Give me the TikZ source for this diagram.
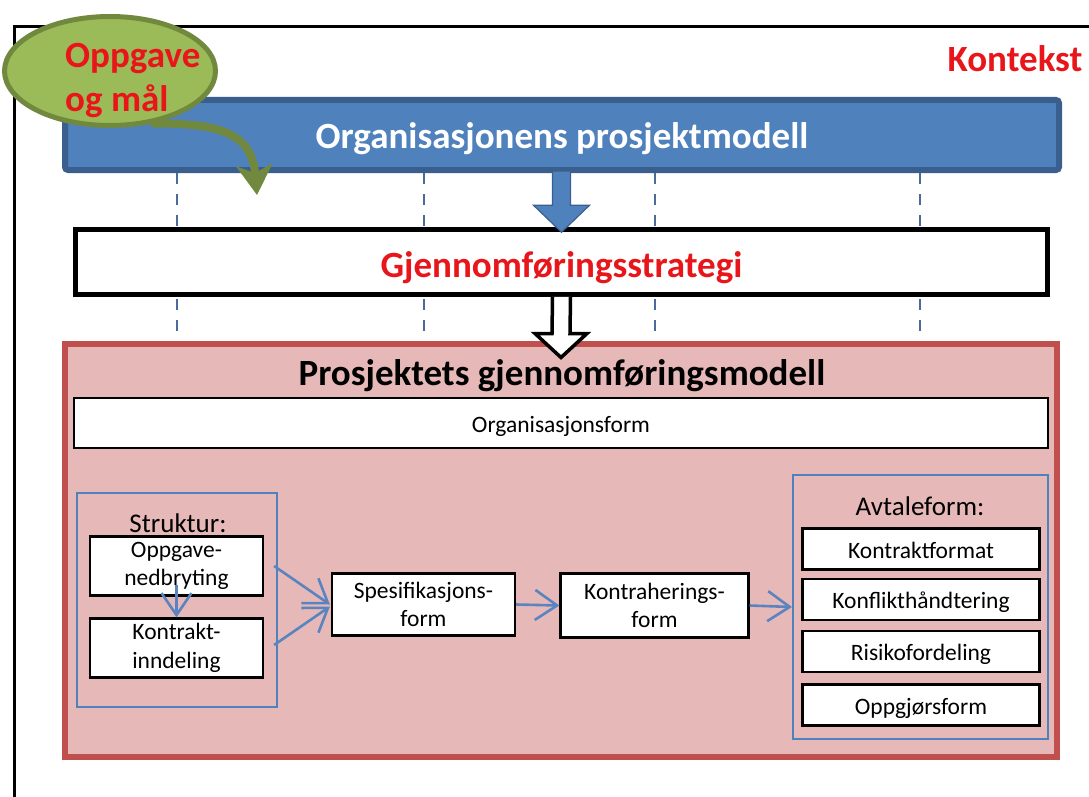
\documentclass[tikz,border=0pt]{standalone}
\usepackage{fontspec}
\setmainfont{Carlito}
\usetikzlibrary{arrows.meta,shapes.geometric,calc}

\definecolor{barblue}{HTML}{4F81BD}
\definecolor{bardark}{HTML}{3A5F8F}
\definecolor{dashblue}{HTML}{4A6C9B}
\definecolor{pinkfill}{HTML}{E6B9B8}
\definecolor{pinkedge}{HTML}{C0504D}
\definecolor{leaf}{HTML}{9BBB59}
\definecolor{leafdark}{HTML}{71893F}
\definecolor{signal}{HTML}{E8161B}
\definecolor{flowblue}{HTML}{5A84C0}

\tikzset{
  bigtext/.style={font=\fontsize{37}{44}\selectfont\bfseries},
  itembox/.style={draw=black, fill=white, line width=2.2pt, inner sep=0pt,
    align=center, font=\fontsize{23.5}{28.5}\selectfont},
  oneline/.style={text height=18pt, text depth=0pt},
  groupbox/.style={draw=barblue, line width=2pt, inner sep=0pt},
  grouplabel/.style={font=\fontsize{27}{32}\selectfont, inner sep=0pt, anchor=base},
  flow/.style={draw=flowblue, line width=2.6pt,
    -{Straight Barb[length=22pt,width=30pt]}},
  guide/.style={draw=dashblue, line width=2.2pt, dash pattern=on 11pt off 10pt},
}

\begin{document}
\begin{tikzpicture}[x=1pt,y=-1pt]
\useasboundingbox (0,0) rectangle (1089,797);
\clip (0,0) rectangle (1089,797);

% outer context frame
\draw[line width=3pt] (1100,27) -- (14,27) -- (14,820);

% column guides
\coordinate (g1) at (177,0);
\coordinate (g2) at (424,0);
\coordinate (g3) at (655,0);
\coordinate (g4) at (920,0);

% main levels
\node[draw=bardark, fill=barblue, line width=6pt, rounded corners=3pt,
      minimum width=994pt, minimum height=70pt, inner sep=0pt,
      text height=26pt, text depth=0pt,
      bigtext, text=white] (bar) at (562,135) {Organisasjonens prosjektmodell};

\node[draw=pinkedge, fill=pinkfill, line width=6pt, inner sep=0pt,
      minimum width=992pt, minimum height=413pt] (pink) at (561,550) {};

\foreach \g in {g1,g2,g3,g4}
  \draw[guide] (\g |- bar.south) -- (\g |- pink.north);

\node[draw=black, fill=white, line width=4.5pt, inner sep=0pt,
      text height=30pt, text depth=0pt,
      minimum width=972pt, minimum height=65pt,
      bigtext, text=signal] (strat) at (561.5,262) {Gjennomføringsstrategi};

% block arrow: project model -> strategy
\filldraw[fill=barblue, draw=bardark, line width=1.2pt, line join=miter]
  ($(strat.north |- bar.south)+(-9,-2)$) -- ($(strat.north)+(-9,-22)$)
  -- ($(strat.north)+(-28,-22)$) -- ($(strat.north)+(0,5)$)
  -- ($(strat.north)+(28,-22)$) -- ($(strat.north)+(9,-22)$)
  -- ($(strat.north |- bar.south)+(9,-2)$) -- cycle;

% hollow arrow: strategy -> execution model
\filldraw[fill=white, draw=black, line width=3.5pt, line join=miter]
  ($(strat.south)+(-9,0)$) -- ($(pink.north)+(-9,-7)$)
  -- ($(pink.north)+(-26,-7)$) -- ($(pink.north)+(0,17)$)
  -- ($(pink.north)+(26,-7)$) -- ($(pink.north)+(9,-7)$)
  -- ($(strat.south)+(9,0)$);

\node[bigtext, inner sep=0pt, anchor=base] (pinktitle) at (562,385) {Prosjektets gjennomføringsmodell};

\node[itembox, oneline, minimum width=974pt, minimum height=50pt] (orgform) at (561,423) {Organisasjonsform};

% structure group
\node[groupbox, minimum width=200pt, minimum height=214pt] (strgroup) at (177,599.5) {};
\node[grouplabel] (strlabel) at (178,532) {Struktur:};
\node[itembox, minimum width=173pt, minimum height=59pt] (oppg) at (176.5,566) {Oppgave-\\nedbryting};
\node[itembox, minimum width=173pt, minimum height=59pt] (kontr) at (176.5,648) {Kontrakt-\\inndeling};

\node[itembox, minimum width=183pt, minimum height=62pt] (spes) at (423.5,604.5) {Spesifikasjons-\\form};
\node[itembox, minimum width=188pt, minimum height=64pt] (kontrah) at (654.5,605.5) {Kontraherings-\\form};

% agreement group
\node[groupbox, minimum width=255pt, minimum height=264pt] (avtgroup) at (920.5,607) {};
\node[grouplabel] (avtlabel) at (920,515) {Avtaleform:};
\node[itembox, oneline, minimum width=237pt, minimum height=41pt] (kf) at (921,549) {Kontraktformat};
\node[itembox, oneline, minimum width=237pt, minimum height=41pt] (konf) at (921,599.5) {Konflikthåndtering};
\node[itembox, oneline, minimum width=237pt, minimum height=41pt] (risk) at (921,651.5) {Risikofordeling};
\node[itembox, oneline, minimum width=237pt, minimum height=41pt] (oppgj) at (921,705) {Oppgjørsform};

% flow arrows
\draw[flow] ($(oppg.south)+(0,-12)$) -- (kontr.north);
\draw[flow] ($(oppg.east)+(10,0)$) -- ($(spes.west)+(-1,0)$);
\draw[flow] ($(kontr.east)+(10,-3)$) -- ($(spes.west)+(-1,2)$);
\draw[flow] (spes.east) -- (kontrah.west);
\draw[flow] (kontrah.east) -- (avtgroup.west);

% goal bubble
\node[ellipse, draw=leafdark, fill=leaf, line width=5pt, inner sep=0pt,
      minimum width=211pt, minimum height=109pt] (goalell) at (110,71) {};
\coordinate (goaltip) at (257,195);
\draw[draw=leafdark, line width=8pt,
      -{Stealth[length=30pt,width=36pt,inset=8pt]}]
  (goalell.-52) .. controls (228,122) and (252,138) .. (goaltip);
\node[bigtext, text=signal, align=left, inner sep=0pt, anchor=base west] (goaltxt) at (65,112) {Oppgave\\og mål};

\node[bigtext, text=signal, inner sep=0pt, anchor=base] (kontekst) at (1015,72) {Kontekst};
\end{tikzpicture}
\end{document}
